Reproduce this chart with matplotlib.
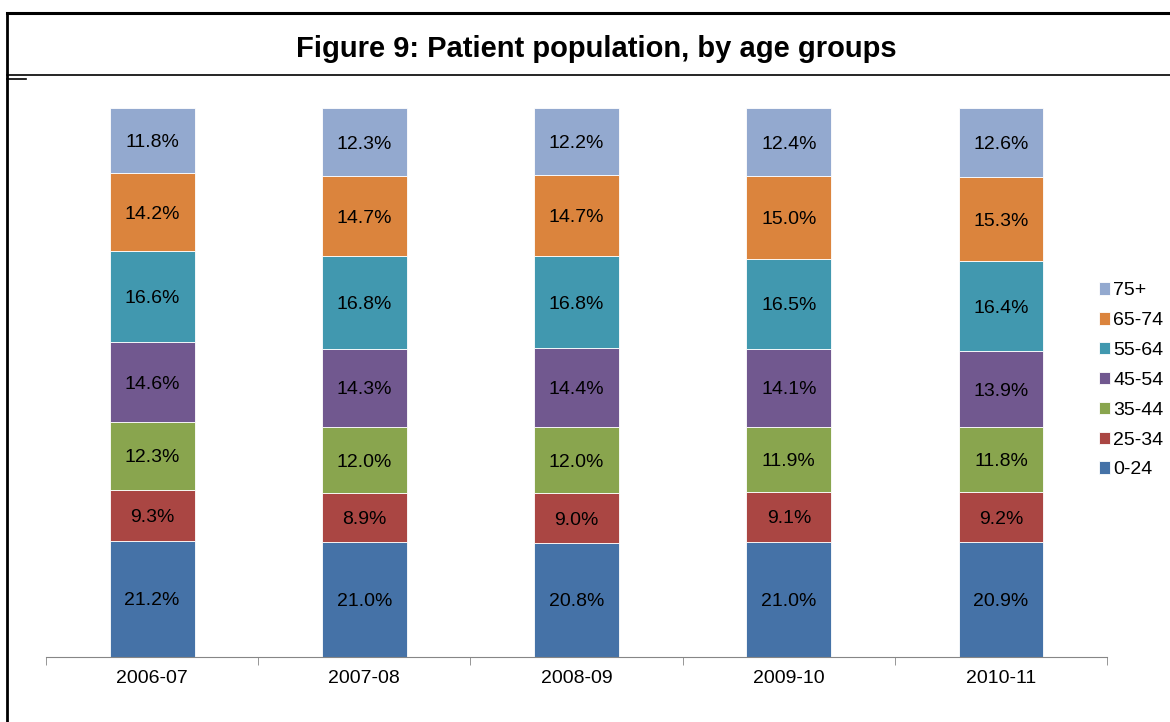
import matplotlib.pyplot as plt
import numpy as np
from matplotlib.lines import Line2D

plt.rcParams['font.family'] = ['Liberation Sans', 'DejaVu Sans']

years = ['2006-07', '2007-08', '2008-09', '2009-10', '2010-11']
groups = ['0-24', '25-34', '35-44', '45-54', '55-64', '65-74', '75+']
shares = {
    '0-24':  [21.2, 21.0, 20.8, 21.0, 20.9],
    '25-34': [9.3, 8.9, 9.0, 9.1, 9.2],
    '35-44': [12.3, 12.0, 12.0, 11.9, 11.8],
    '45-54': [14.6, 14.3, 14.4, 14.1, 13.9],
    '55-64': [16.6, 16.8, 16.8, 16.5, 16.4],
    '65-74': [14.2, 14.7, 14.7, 15.0, 15.3],
    '75+':   [11.8, 12.3, 12.2, 12.4, 12.6],
}
colors = ['#4572A7', '#AA4643', '#89A54E', '#71588F', '#4198AF', '#DB843D', '#93A9CF']

fig = plt.figure(figsize=(11.7, 7.22), dpi=100)
ax = fig.add_axes([0.0393, 0.090, 0.907, 0.760])

x = np.arange(len(years))
totals = np.sum([shares[g] for g in groups], axis=0)
bottom = np.zeros(len(years))
handles = []
for g, c in zip(groups, colors):
    vals = np.array(shares[g]) / totals * 100
    bars = ax.bar(x, vals, 0.4, bottom=bottom, color=c, edgecolor='white', linewidth=0.6, label=g)
    handles.append(bars)
    for xi, b, v, raw in zip(x, bottom, vals, shares[g]):
        ax.text(xi, b + v / 2, f'{raw:.1f}%', ha='center', va='center_baseline', fontsize=14, color='black')
    bottom += vals

ax.set_xlim(-0.5, len(years) - 0.5)
ax.set_ylim(0, 100)
ax.set_yticks([])
for s in ['top', 'right', 'left']:
    ax.spines[s].set_visible(False)
ax.spines['bottom'].set_color('#868686')
ax.set_xticks(x)
ax.set_xticklabels(years, fontsize=14)
ax.tick_params(axis='x', which='major', length=0, pad=9)
ax.set_xticks(np.arange(-0.5, len(years)), minor=True)
ax.tick_params(axis='x', which='minor', length=6, color='#868686', direction='out')

leg = fig.legend(handles[::-1], groups[::-1], loc='upper left', bbox_to_anchor=(0.939, 0.609),
                 frameon=False, fontsize=14, handlelength=0.6, handleheight=0.6,
                 handletextpad=0.15, labelspacing=0.66, borderaxespad=0, borderpad=0)

fig.text(0.51, 0.932, 'Figure 9: Patient population, by age groups', ha='center', va='center',
         fontsize=21, fontweight='bold')

# title box borders
fig.add_artist(Line2D([0.006, 1.0], [0.982, 0.982], color='black', linewidth=2.2))
fig.add_artist(Line2D([0.006, 1.0], [0.896, 0.896], color='black', linewidth=1.2))
fig.add_artist(Line2D([0.006, 0.006], [0.0, 0.982], color='black', linewidth=2.0))
fig.add_artist(Line2D([0.006, 0.022], [0.891, 0.891], color='black', linewidth=1.2))

fig.savefig('out.png', dpi=100)
